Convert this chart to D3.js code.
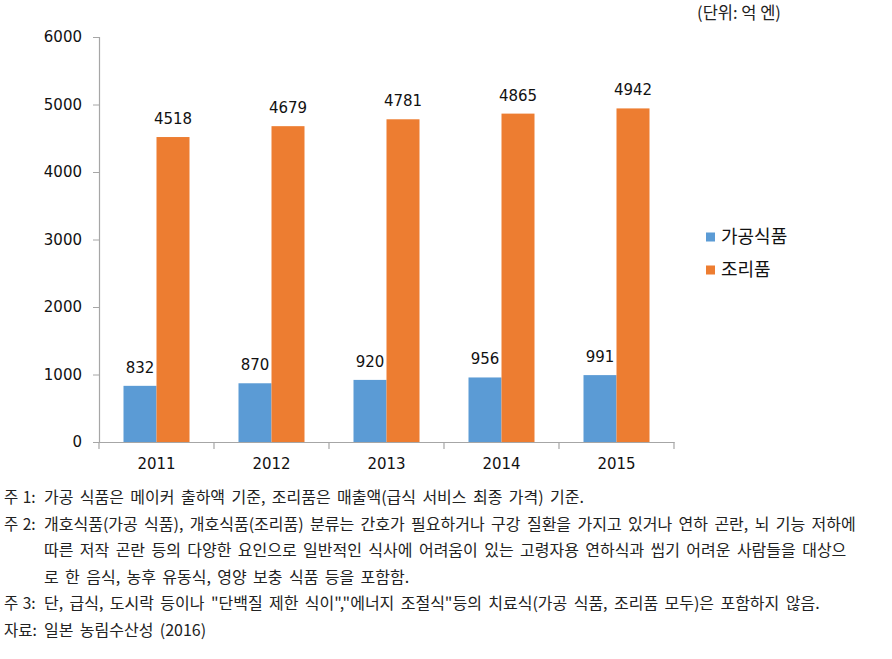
<!DOCTYPE html>
<html><head><meta charset="utf-8">
<script src="https://cdn.jsdelivr.net/npm/d3@7"></script>
<style>
body{margin:0;background:#fff;}
svg{display:block;}
</style></head>
<body>
<svg id="c" width="892" height="659"></svg>
<script>
const years = ["2011","2012","2013","2014","2015"];
const seriesNames = ["가공식품","조리품"];
const processed = [832,870,920,956,991];
const cooked = [4518,4679,4781,4865,4942];
const yTicks = [0,1000,2000,3000,4000,5000,6000];
const unitLabel = "(단위: 억 엔)";
const notes = [
  ["주 1:", "가공 식품은 메이커 출하액 기준, 조리품은 매출액(급식 서비스 최종 가격) 기준."],
  ["주 2:", "개호식품(가공 식품), 개호식품(조리품) 분류는 간호가 필요하거나 구강 질환을 가지고 있거나 연하 곤란, 뇌 기능 저하에"],
  ["", "따른 저작 곤란 등의 다양한 요인으로 일반적인 식사에 어려움이 있는 고령자용 연하식과 씹기 어려운 사람들을 대상으"],
  ["", "로 한 음식, 농후 유동식, 영양 보충 식품 등을 포함함."],
  ["주 3:", "단, 급식, 도시락 등이나 \"단백질 제한 식이\",\"에너지 조절식\"등의 치료식(가공 식품, 조리품 모두)은 포함하지 않음."],
  ["자료:", "일본 농림수산성 (2016)"]
];
const colors = ["#5B9BD5","#ED7D31"];

const svg = d3.select("#c");
const x0 = d3.scaleBand().domain(years).range([99,674]).paddingInner(0).paddingOuter(0);
const x1 = d3.scaleBand().domain(seriesNames).range([24.5, x0.bandwidth()-24.5]);
const y = d3.scaleLinear().domain([0,6000]).range([442,37]);

const numFont = "DejaVu Sans, sans-serif";
const krFont = "'Noto Sans CJK KR', sans-serif";

// y axis
const ya = svg.append("g").attr("transform","translate(99,0)")
  .call(d3.axisLeft(y).tickValues(yTicks).tickSize(6).tickPadding(11).tickFormat(d3.format("d")));
ya.select(".domain").attr("stroke","#A6A6A6").attr("stroke-width",1.2);
ya.selectAll(".tick line").attr("stroke","#A6A6A6");
ya.selectAll("text").attr("font-family",numFont).attr("font-size",15).attr("fill","#111");

// x axis
const xa = svg.append("g").attr("transform","translate(0,442)")
  .call(d3.axisBottom(x0).tickSize(0).tickPadding(16));
xa.select(".domain").attr("stroke","#A6A6A6").attr("stroke-width",1.2);
xa.selectAll("text").attr("font-family",numFont).attr("font-size",15).attr("fill","#111");
const edges = years.map(d=>x0(d)).concat([x0.range()[1]]);
svg.append("g").selectAll("line").data(edges).join("line")
  .attr("x1",d=>d).attr("x2",d=>d).attr("y1",442).attr("y2",449)
  .attr("stroke","#A6A6A6").attr("stroke-width",1.2);

const data = [processed, cooked];
const groups = svg.append("g");
data.forEach((vals,si)=>{
  groups.append("g").selectAll("rect").data(vals).join("rect")
    .attr("x",(d,i)=>x0(years[i])+x1(seriesNames[si]))
    .attr("width",x1.bandwidth())
    .attr("y",d=>y(d))
    .attr("height",d=>y(0)-y(d))
    .attr("fill",colors[si]);
  groups.append("g").selectAll("text").data(vals).join("text")
    .attr("x",(d,i)=>x0(years[i])+x1(seriesNames[si])+x1.bandwidth()/2)
    .attr("y",d=>y(d)-13)
    .attr("text-anchor","middle")
    .attr("font-family",numFont).attr("font-size",15).attr("fill","#111")
    .text(d=>d);
});

// legend
const lg = svg.append("g");
seriesNames.forEach((n,i)=>{
  const yy = 237 + i*33;
  lg.append("rect").attr("x",706).attr("y",yy-4.5).attr("width",9).attr("height",9).attr("fill",colors[i]);
  lg.append("text").attr("x",721).attr("y",yy).attr("dy","0.36em")
    .attr("font-family",krFont).attr("font-size",18).attr("fill","#111").text(n);
});

// unit label
svg.append("text").attr("x",739).attr("y",19).attr("text-anchor","middle")
  .attr("font-family",krFont).attr("font-size",16.5).attr("fill","#222").text(unitLabel);

// notes
const ng = svg.append("g");
notes.forEach((nt,i)=>{
  const yy = 503 + i*26.6;
  if(nt[0]) ng.append("text").attr("x",4).attr("y",yy)
    .attr("font-family",krFont).attr("font-size",15.5).attr("word-spacing",1).attr("fill","#222").text(nt[0]);
  ng.append("text").attr("x",44).attr("y",yy)
    .attr("font-family",krFont).attr("font-size",16).attr("word-spacing",2.8).attr("fill","#222").text(nt[1]);
});
</script>
</body></html>
